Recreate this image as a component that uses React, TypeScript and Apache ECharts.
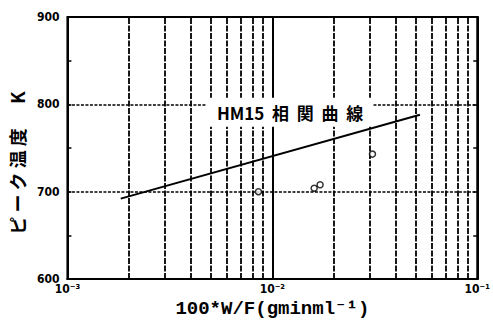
import React, { useEffect, useRef } from "react";
import * as echarts from "echarts";

// HM15 correlation curve (end points) and measured samples
const curveX = [0.00182, 0.0525];
const curveY = [692, 788];
const sampleX = [0.00855, 0.016, 0.0171, 0.0308];
const sampleY = [700, 704, 708, 743];

// log-axis decades and the mantissas that get a dotted grid line
const decades = [0.001, 0.01];
const mantissas = [2, 3, 4, 5, 6, 7, 8, 9];

const yTicks = [600, 700, 800, 900];
const curveLabel = "HM15  相  関  曲  線";
const yTitle = "ピ ー ク 温 度      K";
const xTitle = "100*W/F(gminml⁻¹)";

const supDigits: Record<string, string> = { "-": "⁻", "1": "¹", "2": "²", "3": "³", "0": "⁰" };

export default function App() {
  const ref = useRef<HTMLDivElement>(null);

  useEffect(() => {
    if (!ref.current) return;
    const chart = echarts.init(ref.current, undefined, { renderer: "svg" });

    const yMin = yTicks[0];
    const yMax = yTicks[yTicks.length - 1];
    // each minor grid line runs from the bottom to the top of the plot
    const minorLines = decades.flatMap((d) =>
      mantissas.map((m) => {
        const x = +(d * m).toPrecision(3);
        return [{ coord: [x, yMin] }, { coord: [x, yMax] }];
      })
    );
    const labelFont = "'Liberation Sans Narrow', 'DejaVu Sans Condensed', sans-serif";

    chart.setOption({
      animation: false,
      backgroundColor: "#fff",
      grid: {
        left: 67,
        right: 11,
        top: 17,
        bottom: 53,
        show: true,
        borderColor: "#000",
        borderWidth: 2,
        backgroundColor: "transparent",
      },
      xAxis: {
        type: "log",
        logBase: 10,
        min: 0.001,
        max: 0.1,
        interval: 1,
        name: xTitle,
        nameLocation: "middle",
        nameGap: 20,
        nameTextStyle: {
          fontFamily: "'Liberation Mono', 'DejaVu Sans Mono', monospace",
          fontWeight: "bold",
          fontSize: 19,
          color: "#000",
        },
        axisLine: { show: true, lineStyle: { color: "#000", width: 2 } },
        axisTick: { show: true, inside: true, length: 4, lineStyle: { color: "#000", width: 1.5 } },
        axisLabel: {
          color: "#000",
          fontFamily: labelFont,
          fontWeight: "bold",
          fontSize: 12,
          margin: 4,
          formatter: (v: number) => {
            const e = String(Math.round(Math.log10(v)));
            return "10" + e.split("").map((c) => supDigits[c] ?? c).join("");
          },
        },
        splitLine: { show: true, lineStyle: { color: "#000", width: 2 } },
      },
      yAxis: [
        {
          type: "value",
          min: yMin,
          max: yMax,
          interval: 100,
          name: yTitle,
          nameLocation: "middle",
          nameGap: 33,
          nameTextStyle: {
            fontFamily: "'Noto Sans CJK JP', sans-serif",
            fontWeight: "bold",
            fontSize: 18,
            color: "#000",
            padding: [0, 30, 0, 0],
          },
          axisLine: { show: true, lineStyle: { color: "#000", width: 2 } },
          axisTick: { show: true, inside: true, length: 4, lineStyle: { color: "#000", width: 1.5 } },
          minorTick: { show: true, splitNumber: 2, length: 4, lineStyle: { color: "#000", width: 1.5 } },
          axisLabel: {
            color: "#000",
            fontFamily: labelFont,
            fontWeight: "bold",
            fontSize: 12,
            margin: 8,
          },
          splitLine: { show: true, lineStyle: { color: "#000", width: 1.6, type: [3, 1.5] } },
        },
        {
          type: "value",
          position: "right",
          min: yMin,
          max: yMax,
          interval: 100,
          axisLine: { show: true, lineStyle: { color: "#000", width: 2 } },
          axisTick: { show: true, inside: true, length: 4, lineStyle: { color: "#000", width: 1.5 } },
          minorTick: { show: true, splitNumber: 2, length: 4, lineStyle: { color: "#000", width: 1.5 } },
          axisLabel: { show: false },
          splitLine: { show: false },
        },
      ],
      series: [
        {
          type: "line",
          data: curveX.map((x, i) => [x, curveY[i]]),
          showSymbol: false,
          symbol: "none",
          lineStyle: { color: "#000", width: 2 },
          z: 5,
          markLine: {
            silent: true,
            symbol: "none",
            label: { show: false },
            lineStyle: { color: "#000", width: 1.8, type: [6, 1.5] },
            data: minorLines,
            z: 1,
          },
          markPoint: {
            silent: true,
            symbol: "rect",
            symbolSize: 0,
            z: 4,
            data: [
              {
                coord: [0.0122, 791],
                label: {
                  show: true,
                  position: "inside",
                  formatter: curveLabel,
                  color: "#000",
                  fontFamily: "'Noto Sans CJK JP', sans-serif",
                  fontWeight: "bold",
                  fontSize: 17,
                  backgroundColor: "#fff",
                  padding: [6, 10, 6, 10],
                },
              },
            ],
          },
        },
        {
          type: "scatter",
          data: sampleX.map((x, i) => [x, sampleY[i]]),
          symbol: "circle",
          symbolSize: 6,
          itemStyle: { color: "#fff", borderColor: "#000", borderWidth: 1.5 },
          z: 6,
        },
      ],
    });

    return () => chart.dispose();
  }, []);

  return (
    <div
      ref={ref}
      style={{ position: "fixed", left: 0, top: 0, width: 493, height: 332, background: "#fff" }}
    />
  );
}
